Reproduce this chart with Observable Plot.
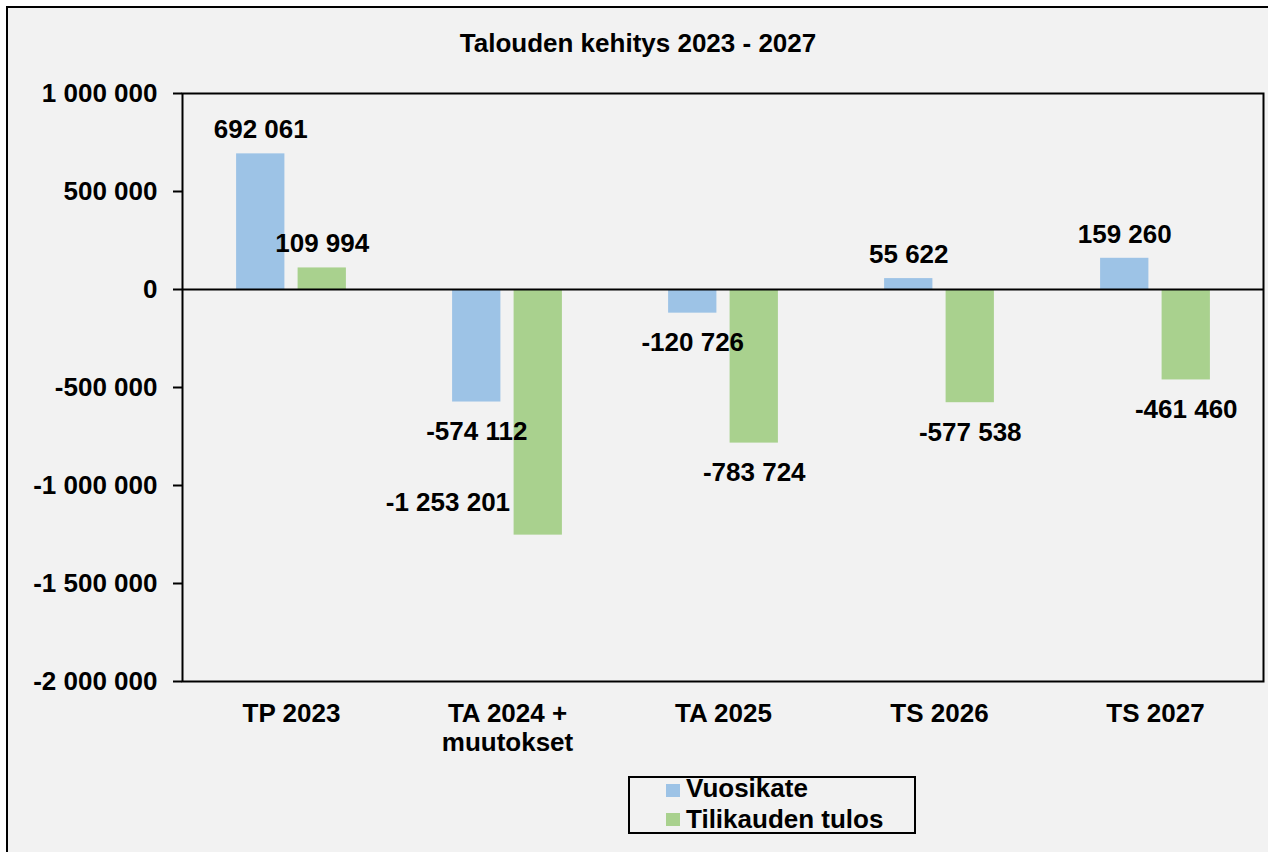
<!DOCTYPE html>
<html><head><meta charset="utf-8">
<script src="https://cdn.jsdelivr.net/npm/d3@7"></script>
<script src="https://cdn.jsdelivr.net/npm/@observablehq/plot@0.6"></script>
<style>
html,body{margin:0;padding:0;background:#fff;overflow:hidden;width:1268px;height:852px}
body{font-family:'Liberation Sans',Arial,sans-serif;font-weight:bold;color:#000;position:relative}
#panel{position:absolute;left:6px;top:6px;width:1262px;height:846px;box-sizing:border-box;border-left:2px solid #000;border-top:2px solid #000;background:#f2f2f2}
#title{position:absolute;left:138px;top:30px;width:1000px;text-align:center;font-size:26px;line-height:26px;white-space:nowrap}
#chart{position:absolute;left:0;top:70px}
#legend{position:absolute;left:628px;top:776px;width:288px;height:58px;box-sizing:border-box;border:2px solid #000;background:#f2f2f2}
#legend .sw{position:absolute;left:36px;width:14px;height:13px}
#legend .lb{position:absolute;left:56px;font-size:26px;line-height:26px;white-space:nowrap}
</style>
</head><body>
<div id="panel"></div>
<div id="title"></div>
<div id="chart"></div>
<div id="legend"></div>
<script>
const titleText = "Talouden kehitys 2023 - 2027";
const categories = ["TP 2023", "TA 2024 +\nmuutokset", "TA 2025", "TS 2026", "TS 2027"];
const seriesNames = ["Vuosikate", "Tilikauden tulos"];
const vuosikate = [692061, -574112, -120726, 55622, 159260];
const tilikaudenTulos = [109994, -1253201, -783724, -577538, -461460];
const yTicks = [-2000000, -1500000, -1000000, -500000, 0, 500000, 1000000];
const colors = ["#9dc3e6", "#a9d18e"];

const seriesValues = [vuosikate, tilikaudenTulos];
const table = [];
seriesNames.forEach((s, k) => categories.forEach((c, i) => table.push({cat: c, series: s, value: seriesValues[k][i]})));

const fmt = d3.formatLocale({decimal: ",", thousands: " ", grouping: [3], currency: ["", " €"], minus: "-"}).format(",d");

document.getElementById("title").textContent = titleText;

const offsets = [-30.75, 30.75];
const font = {fontSize: 26, fontWeight: "bold", fill: "black"};
const isMoved = d => d.series === seriesNames[1] && d.cat === categories[1];

const marks = [];
seriesNames.forEach((s, k) => {
  marks.push(Plot.barY(table.filter(d => d.series === s), {
    x: "cat", y: "value", fill: colors[k], dx: offsets[k], insetLeft: 83.85, insetRight: 83.85
  }));
});
marks.push(Plot.ruleY([0], {stroke: "black", strokeWidth: 2}));
marks.push(Plot.frame({stroke: "black", strokeWidth: 2}));
marks.push(Plot.axisY({ticks: yTicks, tickFormat: fmt, tickSize: 9, tickPadding: 16, strokeWidth: 2, label: null, ...font}));
marks.push(Plot.axisX({tickSize: 0, tickPadding: 18.7, lineHeight: 30 / 26, label: null, ...font}));
seriesNames.forEach((s, k) => {
  marks.push(Plot.text(table.filter(d => d.series === s && d.value >= 0 && !isMoved(d)), {
    x: "cat", y: "value", text: d => fmt(d.value), dx: offsets[k], dy: -24, ...font
  }));
  marks.push(Plot.text(table.filter(d => d.series === s && d.value < 0 && !isMoved(d)), {
    x: "cat", y: "value", text: d => fmt(d.value), dx: offsets[k], dy: 30, ...font
  }));
});
marks.push(Plot.text(table.filter(isMoved), {
  x: "cat", y: "value", text: d => fmt(d.value), dx: -59.6, dy: -32, ...font
}));

const chart = Plot.plot({
  width: 1268,
  height: 690,
  marginLeft: 182,
  marginRight: 5,
  marginTop: 23,
  marginBottom: 79,
  style: {background: "transparent", fontFamily: "'Liberation Sans', Arial, sans-serif", fontSize: "26px", fontWeight: "bold", color: "black", overflow: "visible"},
  x: {type: "band", domain: categories, padding: 0},
  y: {domain: [-2000000, 1000000]},
  marks
});
document.getElementById("chart").appendChild(chart);

const legend = document.getElementById("legend");
const swTops = [6, 35], lbTops = [-3, 28];
seriesNames.forEach((s, k) => {
  const sw = document.createElement("div");
  sw.className = "sw"; sw.style.top = swTops[k] + "px"; sw.style.background = colors[k];
  const lb = document.createElement("div");
  lb.className = "lb"; lb.style.top = lbTops[k] + "px"; lb.textContent = s;
  legend.appendChild(sw); legend.appendChild(lb);
});
</script>
</body></html>
